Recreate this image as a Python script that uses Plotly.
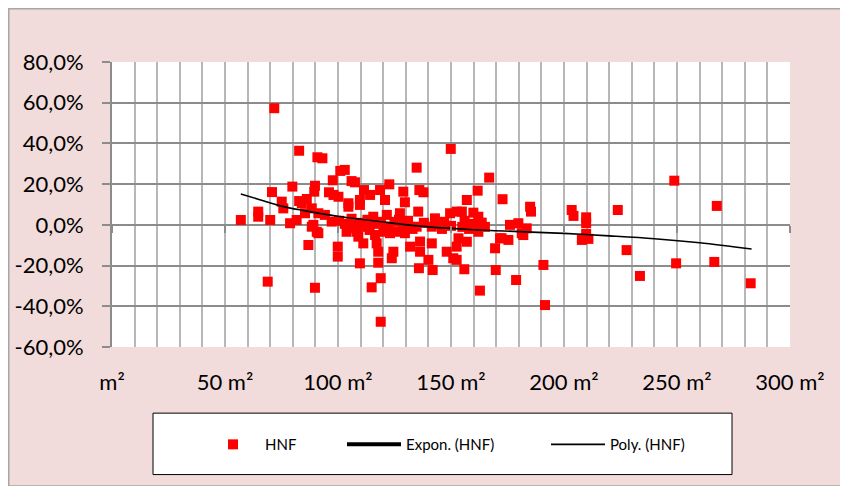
import plotly.graph_objects as go

# ---- data (area in m², deviation in %) ----
hnf_x = [71.8, 82.8, 90.9, 93.1, 101, 103, 97.7, 79.8, 89.8, 89.5, 70.8, 96, 98, 100.2, 75.1, 82.8, 86.2,
         57, 64.7, 64.7, 70, 75.8, 78.8, 81.7, 86.9, 90.6, 89.1, 99.9, 99.9, 68.9, 89.8, 84, 88.4, 85.4, 91.3,
         94.2, 97.2, 88.4, 91.3,
         149.9, 134.8, 107.5, 106, 122.7, 111.5, 114.2, 118.6, 128.9, 136, 137.8, 109.7, 104.6, 120.8, 129.6,
         104.6, 109.7, 135.5, 142.9, 149.6, 152.5, 115.6, 121.6, 127.4, 122.3, 128.9, 134.8, 141.5, 103.8, 108.3,
         109, 111.2, 116.4, 120.1, 123, 126, 129.6, 117.1, 117.8, 124.5, 123.8, 131.9, 136.3, 136.3, 141.5, 148.1,
         152.5, 140, 141.9, 135.8, 151, 109.7, 117.8, 118.9, 114.9, 118.9,
         166.9, 161.8, 172.8, 157, 154.8, 159.9, 162.1, 163.6, 185, 185.4, 204.2, 176.1, 179.8, 183.5, 162.1,
         172.4, 182,
         153.3, 157, 171.7, 175.4, 169.5, 181.3, 152.5, 155.9, 169.8, 178.8, 190.9, 162.8, 191.6,
         248.8, 267.6, 223.8, 203.4, 209.8, 209.8, 209.8, 207.9, 210.8, 227.7, 233.6, 249.6, 266.5, 282.6,
         100.5, 103, 106, 107, 110, 112, 113, 114, 116, 119, 121, 125, 127, 131, 133, 138, 145, 146, 147, 150,
         155, 156, 158, 160, 165]
hnf_y = [57.3, 36.4, 33.2, 32.7, 26.5, 27.0, 21.9, 18.8, 19.2, 16.3, 16.1, 16.0, 14.7, 13.8, 11.4, 11.7, 12.7,
         2.4, 6.5, 4.0, 2.4, 8.1, 0.8, 2.4, -9.9, -3.4, 0.0, -10.7, -15.6, -27.9, -30.9, 10.6, 8.1, 5.7, 5.7,
         4.9, 1.6, -0.9, -4.1,
         37.3, 28.1, 20.9, 21.5, 19.9, 17.1, 14.7, 17.1, 16.3, 17.1, 16.0, 12.2, 10.6, 12.2, 11.1,
         8.9, 9.8, 6.5, 3.2, 5.7, 6.5, 4.0, 4.9, 5.7, -0.9, 0.0, -0.9, -0.9, -3.4, -3.4,
         -5.8, -9.1, -5.0, -3.4, -4.1, -3.4, -4.1, -9.1, -13.2, -13.2, -16.4, -10.7, -8.2, -13.2, -9.1, -13.2,
         -10.7, -17.2, -22.2, -21.3, -16.4, -18.9, -18.6, -26.2, -30.7, -47.6,
         23.2, 16.8, 12.6, 12.2, 6.5, 6.0, 4.0, 1.1, 8.9, 6.5, 4.4, 0.0, 0.8, -1.7, -3.4,
         -6.6, -5.0,
         -6.6, -8.3, -6.6, -7.4, -11.5, -4.1, -17.2, -21.8, -22.2, -27.1, -19.7, -32.3, -39.4,
         21.7, 9.3, 7.3, 7.3, 3.7, 0.8, -4.5, -7.4, -6.9, -12.4, -25.1, -18.9, -18.2, -28.7,
         2.0, 0.5, 3.0, -1.5, 1.0, -1.0, 2.5, -2.5, 0.5, 1.5, -1.5, 1.5, 2.5, 2.0, -2.0, 1.0, 0.5, -2.0, 1.5, -0.5,
         -1.0, 2.0, -2.0, 0.5, -1.0]

# polynomial trend line
poly_x = [57, 65, 75, 85, 100, 120, 140, 160, 180, 200, 220, 240, 260, 283]
poly_y = [15.2, 12.5, 9.2, 7.0, 4.2, 1.4, -1.0, -2.4, -3.3, -4.2, -5.4, -6.8, -8.8, -11.9]

x_tickvals = [0, 50, 100, 150, 200, 250, 300]
x_ticktext = ["m²", "50 m²", "100 m²", "150 m²", "200 m²", "250 m²", "300 m²"]
y_tickvals = [-60, -40, -20, 0, 20, 40, 60, 80]
y_ticktext = ["-60,0%", "-40,0%", "-20,0%", "0,0%", "20,0%", "40,0%", "60,0%", "80,0%"]

FONT = "Lato"
OFF = 8  # page body margin
W, H = 836, 478
L, T = 104, 54
R = W - 782
B = H - 339.3
PW, PH = W - L - R, H - T - B


def px(x):
    """screen x (px) -> paper coordinate"""
    return (x - OFF - L) / PW


def py(y):
    """screen y (px) -> paper coordinate"""
    return (H - B - (y - OFF)) / PH


fig = go.Figure()
fig.add_trace(go.Scatter(x=hnf_x, y=hnf_y, mode="markers", name="HNF",
                         marker=dict(symbol="square", size=10, color="#ff0000"),
                         legend="legend"))
fig.add_trace(go.Scatter(x=[None], y=[None], mode="lines", name="Expon. (HNF)",
                         line=dict(color="black", width=4), legend="legend2"))
fig.add_trace(go.Scatter(x=poly_x, y=poly_y, mode="lines", name="Poly. (HNF)",
                         line=dict(color="black", width=1.6, shape="spline"), legend="legend3"))
# invisible trace for the tick marks on the zero line
fig.add_trace(go.Scatter(x=[None], y=[None], xaxis="x2", showlegend=False, hoverinfo="skip"))

legend_common = dict(orientation="h", yanchor="middle", xanchor="left",
                     bgcolor="rgba(0,0,0,0)", borderwidth=0, itemwidth=54,
                     font=dict(family=FONT, size=15, color="black"), y=py(445))

fig.update_layout(
    width=W, height=H,
    margin=dict(l=L, r=R, t=T, b=B, pad=0, autoexpand=False),
    paper_bgcolor="#f2dcdb",
    plot_bgcolor="white",
    font=dict(family=FONT, color="black"),
    xaxis=dict(range=[0, 300], tickvals=x_tickvals, ticktext=x_ticktext, automargin=False,
               showgrid=True, gridcolor="#b7b7b7", gridwidth=2,
               minor=dict(dtick=10, tick0=0, showgrid=True, gridcolor="#b7b7b7", gridwidth=2),
               zeroline=False, showline=False, ticks="",
               tickfont=dict(family=FONT, size=22), ticklabelstandoff=20),
    xaxis2=dict(range=[0, 300], overlaying="x", anchor="free", position=py(225), automargin=False,
                tickvals=x_tickvals, showticklabels=False, ticks="outside", ticklen=7,
                tickcolor="#8c8c8c", tickwidth=1.5, showgrid=False, zeroline=False, showline=False),
    yaxis=dict(range=[-60, 80], tickvals=y_tickvals, ticktext=y_ticktext, automargin=False,
               showgrid=True, gridcolor="#8c8c8c", gridwidth=2, zeroline=False,
               showline=True, linecolor="#8c8c8c", linewidth=2,
               ticks="outside", ticklen=8, tickcolor="#8c8c8c", tickwidth=2,
               tickfont=dict(family=FONT, size=22), ticklabelstandoff=14),
    legend=dict(legend_common, x=px(201)),
    legend2=dict(legend_common, x=px(342)),
    legend3=dict(legend_common, x=px(546)),
    shapes=[
        # chart frame along the figure edge
        dict(type="rect", xref="paper", yref="paper", x0=px(8.75), x1=px(843.25), y0=py(486.5), y1=py(8.75),
             line=dict(color="#a6a6a6", width=1.5), layer="above"),
        # legend box
        dict(type="rect", xref="paper", yref="paper", x0=px(153), x1=px(732), y0=py(475), y1=py(413.5),
             fillcolor="white", line=dict(color="black", width=1), layer="above"),
    ],
)

fig.write_html("out.html")
